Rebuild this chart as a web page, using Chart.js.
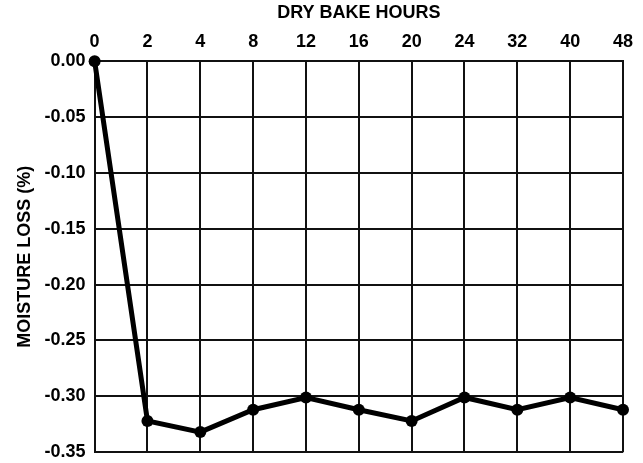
<!DOCTYPE html>
<html>
<head>
<meta charset="utf-8">
<script src="https://cdn.jsdelivr.net/npm/chart.js@4/dist/chart.umd.min.js"></script>
<style>
html,body{margin:0;padding:0;background:#fff;overflow:hidden;}
#wrap{width:643px;height:463px;position:relative;overflow:hidden;}
</style>
</head>
<body>
<div id="wrap"><canvas id="c" width="643" height="472"></canvas></div>
<script>
const hours = ['0','2','4','8','12','16','20','24','32','40','48'];
const moistureLoss = [0, -0.322, -0.332, -0.312, -0.301, -0.312, -0.322, -0.301, -0.312, -0.301, -0.312];
const xTitle = 'DRY BAKE HOURS';
const yTitle = 'MOISTURE LOSS (%)';

const font = {family: "'Liberation Sans', Arial, Helvetica, sans-serif", weight: 'bold', size: 18};

new Chart(document.getElementById('c'), {
  type: 'line',
  data: {
    labels: hours,
    datasets: [{
      data: moistureLoss,
      borderColor: '#000',
      backgroundColor: '#000',
      borderWidth: 5,
      pointRadius: 6,
      pointHoverRadius: 6,
      pointBackgroundColor: '#000',
      pointBorderColor: '#000',
      pointBorderWidth: 0,
      tension: 0,
      clip: false
    }]
  },
  options: {
    responsive: false,
    animation: false,
    devicePixelRatio: 1,
    layout: {padding: {left: 14, right: 20, top: 2, bottom: 0}},
    plugins: {legend: {display: false}, tooltip: {enabled: false}},
    scales: {
      x: {
        position: 'top',
        offset: false,
        title: {display: true, text: xTitle, color: '#000', font: font, padding: {top: 0, bottom: 0}},
        ticks: {color: '#000', font: font, padding: 8, maxRotation: 0, autoSkip: false},
        grid: {color: '#111', lineWidth: 2, drawTicks: false},
        border: {color: '#111', width: 2}
      },
      y: {
        min: -0.35,
        max: 0,
        title: {display: true, text: yTitle, color: '#000', font: font, padding: {top: 0, bottom: 0}},
        ticks: {color: '#000', font: font, padding: 9, stepSize: 0.05, callback: v => Number(v).toFixed(2)},
        grid: {color: '#111', lineWidth: 2, drawTicks: false},
        border: {color: '#111', width: 2}
      }
    }
  }
});
</script>
</body>
</html>
